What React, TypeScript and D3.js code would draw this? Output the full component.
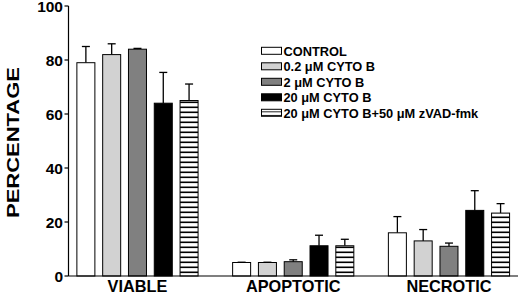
import React from "react";
import * as d3 from "d3";

const categories = ["VIABLE", "APOPTOTIC", "NECROTIC"];
const seriesNames = [
  "CONTROL",
  "0.2 μM CYTO B",
  "2 μM CYTO B",
  "20 μM CYTO B",
  "20 μM CYTO B+50 μM zVAD-fmk",
];
const controlMeans = [79, 5, 16];
const cyto02Means = [82, 5, 13];
const cyto2Means = [84, 5.3, 11];
const cyto20Means = [64, 11.2, 24.3];
const zvadMeans = [65, 11.2, 23.3];
const controlErr = [6, 0.1, 6];
const cyto02Err = [4, 0.1, 4.2];
const cyto2Err = [0.3, 0.7, 1.2];
const cyto20Err = [11.4, 3.9, 7.3];
const zvadErr = [6.1, 2.4, 3.5];
const yTicks = [0, 20, 40, 60, 80, 100];

const means = [controlMeans, cyto02Means, cyto2Means, cyto20Means, zvadMeans];
const errs = [controlErr, cyto02Err, cyto2Err, cyto20Err, zvadErr];
const fills = ["#ffffff", "#d2d2d2", "#808080", "#000000", "url(#stripes)"];

const FONT = "'Liberation Sans', Arial, Helvetica, sans-serif";

export default function App() {
  const y = d3.scaleLinear().domain([0, 100]).range([276, 6]);
  const x0 = d3.scaleBand<string>().domain(categories).range([59.6, 526.85]).padding(0);
  const innerW = 121.2;
  const x1 = d3
    .scaleBand<string>()
    .domain(seriesNames)
    .range([0, innerW])
    .paddingInner(0.302)
    .paddingOuter(0);
  const groupOffset = (x0.bandwidth() - innerW) / 2;
  const axisX = 68.5;
  const legendX = 261.5;
  const legendY0 = 55.5;
  const legendStep = 15.5;

  return (
    <svg
      width={520}
      height={295}
      style={{ position: "absolute", left: 0, top: 0, background: "#fff" }}
    >
      <defs>
        <pattern id="stripes" patternUnits="userSpaceOnUse" width={6} height={5}>
          <rect x={0} y={0} width={6} height={5} fill="#fff" />
          <rect x={0} y={1.5} width={6} height={1.6} fill="#000" />
        </pattern>
        <pattern id="stripesLegend" patternUnits="userSpaceOnUse" width={6} height={3.5} y={0.3}>
          <rect x={0} y={0} width={6} height={3.5} fill="#fff" />
          <rect x={0} y={2.6} width={6} height={1.2} fill="#000" />
        </pattern>
      </defs>

      {/* bars */}
      {categories.map((c, ci) => (
        <g key={c} transform={`translate(${(x0(c) ?? 0) + groupOffset},0)`}>
          {seriesNames.map((s, si) => {
            const bx = x1(s) ?? 0;
            const bw = x1.bandwidth();
            const v = means[si][ci];
            const e = errs[si][ci];
            const cx = bx + bw / 2;
            return (
              <g key={s}>
                <line
                  x1={cx}
                  x2={cx}
                  y1={y(v)}
                  y2={y(v + e)}
                  stroke="#000"
                  strokeWidth={1.3}
                />
                <line
                  x1={cx - 4}
                  x2={cx + 4}
                  y1={y(v + e)}
                  y2={y(v + e)}
                  stroke="#000"
                  strokeWidth={1.3}
                />
                <rect
                  x={bx}
                  y={y(v)}
                  width={bw}
                  height={y(0) - y(v)}
                  fill={fills[si]}
                  stroke="#000"
                  strokeWidth={1}
                />
              </g>
            );
          })}
          <text
            x={innerW / 2}
            y={292.3}
            textAnchor="middle"
            fontFamily={FONT}
            fontWeight="bold"
            fontSize={16.3}
            fill="#000"
          >
            {c}
          </text>
        </g>
      ))}

      {/* axes */}
      <line x1={axisX} x2={axisX} y1={y(100)} y2={y(0)} stroke="#000" strokeWidth={1.2} />
      <line x1={axisX} x2={518} y1={y(0)} y2={y(0)} stroke="#000" strokeWidth={1.2} />
      {yTicks.map((t) => (
        <g key={t}>
          <line x1={axisX - 4} x2={axisX} y1={y(t)} y2={y(t)} stroke="#000" strokeWidth={1.2} />
          <text
            x={63}
            y={y(t) + 5.5}
            textAnchor="end"
            fontFamily={FONT}
            fontWeight="bold"
            fontSize={15.5}
            fill="#000"
          >
            {t}
          </text>
        </g>
      ))}
      <text
        transform={`translate(19.3,142.5) rotate(-90)`}
        textAnchor="middle"
        fontFamily={FONT}
        fontWeight="bold"
        fontSize={17}
        textLength={151}
        lengthAdjust="spacingAndGlyphs"
        fill="#000"
      >
        PERCENTAGE
      </text>

      {/* legend */}
      {seriesNames.map((s, si) => {
        const by = legendY0 + si * legendStep;
        return (
          <g key={s}>
            <rect
              x={legendX}
              y={by - 8.2}
              width={20}
              height={7}
              fill={si === 4 ? "url(#stripesLegend)" : fills[si]}
              stroke="#000"
              strokeWidth={1}
            />
            <text
              x={legendX + 22}
              y={by}
              fontFamily={FONT}
              fontWeight="bold"
              fontSize={12.8}
              fill="#000"
            >
              {s}
            </text>
          </g>
        );
      })}
    </svg>
  );
}
